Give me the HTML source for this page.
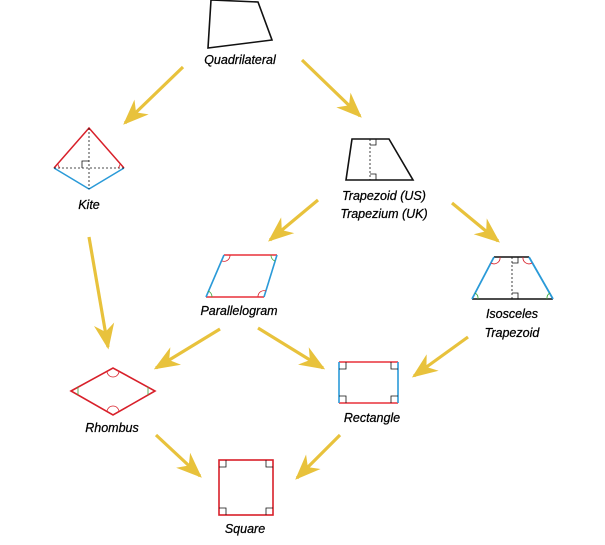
<!DOCTYPE html>
<html><head><style>
html,body{margin:0;padding:0;background:#fff;}
svg{display:block;}
text{font-family:"Liberation Sans",sans-serif;font-style:italic;font-size:12.5px;fill:#000;text-anchor:middle;stroke:#000;stroke-width:0.25;}
</style></head><body>
<svg width="605" height="545" viewBox="0 0 605 545" xmlns="http://www.w3.org/2000/svg">
<defs>
<marker id="ah" viewBox="0 0 20 16" refX="18" refY="8" markerWidth="8" markerHeight="7" orient="auto" markerUnits="strokeWidth">
<path d="M0,0 L20,8 L0,16 L6,8 Z" fill="#e8c23c"/>
</marker>
</defs>
<g stroke="#e8c23c" stroke-width="3.2" fill="none" marker-end="url(#ah)">
<line x1="183" y1="67" x2="125" y2="123"/>
<line x1="302" y1="60" x2="360" y2="116"/>
<line x1="452" y1="203" x2="498" y2="241"/>
<line x1="318" y1="200" x2="270" y2="240"/>
<line x1="89" y1="237" x2="108" y2="347"/>
<line x1="220" y1="329" x2="156" y2="368"/>
<line x1="258" y1="328" x2="323" y2="368"/>
<line x1="468" y1="337" x2="414" y2="376"/>
<line x1="156" y1="435" x2="200" y2="476"/>
<line x1="340" y1="435" x2="297" y2="478"/>
</g>
<polygon points="211,0 258,2 272,40 208,48" fill="none" stroke="#111" stroke-width="1.6"/>
<text x="240" y="64">Quadrilateral</text>
<g stroke-width="1.5" fill="none">
<polyline points="54,168 89,128 124,168" stroke="#d8202a"/>
<polyline points="54,168 89,189 124,168" stroke="#2a9ad8"/>
<line x1="89" y1="128" x2="89" y2="189" stroke="#111" stroke-width="0.8" stroke-dasharray="2,2"/>
<line x1="54" y1="168" x2="124" y2="168" stroke="#111" stroke-width="0.8" stroke-dasharray="2,2"/>
<polyline points="82,168 82,161 89,161" stroke="#111" stroke-width="0.8"/>
<path d="M60,168 A6,6 0 0 1 58,163" stroke="#d8202a" stroke-width="0.8"/>
<path d="M118,168 A6,6 0 0 0 120,163" stroke="#d8202a" stroke-width="0.8"/>
</g>
<text x="89" y="209">Kite</text>
<g fill="none">
<polygon points="352,139 389,139 413,180 346,180" stroke="#111" stroke-width="1.6"/>
<line x1="370" y1="139" x2="370" y2="180" stroke="#111" stroke-width="0.8" stroke-dasharray="2,2"/>
<polyline points="370,145 376,145 376,139" stroke="#111" stroke-width="0.8"/>
<polyline points="370,174 376,174 376,180" stroke="#111" stroke-width="0.8"/>
</g>
<text x="384" y="200">Trapezoid (US)</text>
<text x="384" y="218">Trapezium (UK)</text>
<g fill="none">
<line x1="494" y1="257" x2="529" y2="257" stroke="#111" stroke-width="1.6"/>
<line x1="472" y1="299" x2="553" y2="299" stroke="#111" stroke-width="1.6"/>
<line x1="494" y1="257" x2="472" y2="299" stroke="#2a9ad8" stroke-width="1.8"/>
<line x1="529" y1="257" x2="553" y2="299" stroke="#2a9ad8" stroke-width="1.8"/>
<line x1="512" y1="257" x2="512" y2="299" stroke="#111" stroke-width="0.8" stroke-dasharray="2,2"/>
<polyline points="512,263 518,263 518,257" stroke="#111" stroke-width="0.8"/>
<polyline points="512,293 518,293 518,299" stroke="#111" stroke-width="0.8"/>
<path d="M500,257 A6,6 0 0 1 491,263" stroke="#d8202a" stroke-width="0.8"/>
<path d="M523,257 A6,6 0 0 0 532,263" stroke="#d8202a" stroke-width="0.8"/>
<path d="M478,299 A6,6 0 0 0 475,293" stroke="#3aa83a" stroke-width="0.8"/>
<path d="M547,299 A6,6 0 0 1 550,293" stroke="#3aa83a" stroke-width="0.8"/>
</g>
<text x="512" y="318">Isosceles</text>
<text x="512" y="337">Trapezoid</text>
<g fill="none">
<line x1="224" y1="255" x2="277" y2="255" stroke="#e8303a" stroke-width="1.6"/>
<line x1="206" y1="297" x2="264" y2="297" stroke="#e8303a" stroke-width="1.6"/>
<line x1="224" y1="255" x2="206" y2="297" stroke="#2a9ad8" stroke-width="1.6"/>
<line x1="277" y1="255" x2="264" y2="297" stroke="#2a9ad8" stroke-width="1.6"/>
<path d="M230,255 A6,6 0 0 1 222,261" stroke="#d8202a" stroke-width="0.8"/>
<path d="M258,297 A6,6 0 0 1 266,291" stroke="#d8202a" stroke-width="0.8"/>
<path d="M271,255 A6,6 0 0 0 275,261" stroke="#3aa83a" stroke-width="0.8"/>
<path d="M212,297 A6,6 0 0 0 208,291" stroke="#3aa83a" stroke-width="0.8"/>
</g>
<text x="239" y="315">Parallelogram</text>
<g fill="none">
<polygon points="71,391 113,368 155,391 113,415" stroke="#d8202a" stroke-width="1.6"/>
<path d="M107,371 A6,6 0 0 0 119,371" stroke="#d8202a" stroke-width="0.8"/>
<path d="M107,412 A6,6 0 0 1 119,412" stroke="#d8202a" stroke-width="0.8"/>
<path d="M78,387 L78,395" stroke="#3aa83a" stroke-width="0.8"/>
<path d="M148,387 L148,395" stroke="#3aa83a" stroke-width="0.8"/>
</g>
<text x="112" y="432">Rhombus</text>
<g fill="none">
<line x1="339" y1="362" x2="398" y2="362" stroke="#e8303a" stroke-width="1.6"/>
<line x1="339" y1="403" x2="398" y2="403" stroke="#e8303a" stroke-width="1.6"/>
<line x1="339" y1="362" x2="339" y2="403" stroke="#2a9ad8" stroke-width="1.6"/>
<line x1="398" y1="362" x2="398" y2="403" stroke="#2a9ad8" stroke-width="1.6"/>
<g stroke="#111" stroke-width="0.8">
<polyline points="339,369 346,369 346,362"/>
<polyline points="398,369 391,369 391,362"/>
<polyline points="339,396 346,396 346,403"/>
<polyline points="398,396 391,396 391,403"/>
</g>
</g>
<text x="372" y="422">Rectangle</text>
<g fill="none">
<rect x="219" y="460" width="54" height="55" stroke="#d8202a" stroke-width="1.6"/>
<g stroke="#111" stroke-width="0.8">
<polyline points="219,467 226,467 226,460"/>
<polyline points="273,467 266,467 266,460"/>
<polyline points="219,508 226,508 226,515"/>
<polyline points="273,508 266,508 266,515"/>
</g>
</g>
<text x="245" y="533">Square</text>
</svg>
</body></html>
